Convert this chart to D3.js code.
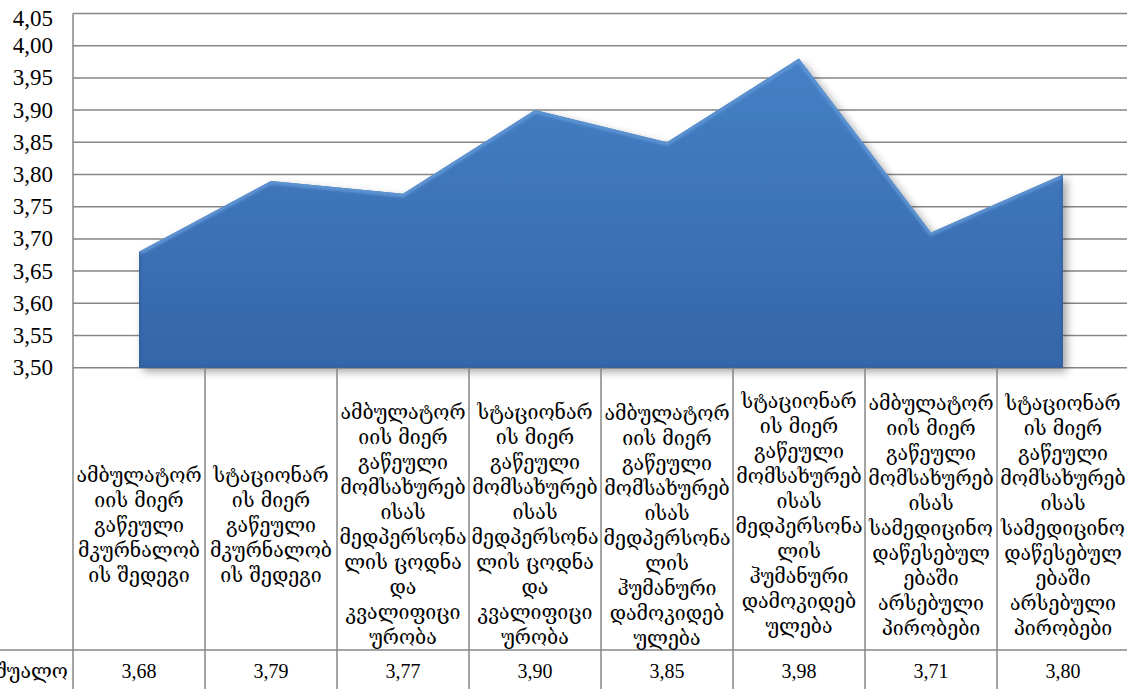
<!DOCTYPE html>
<html><head><meta charset="utf-8">
<script src="https://cdn.jsdelivr.net/npm/d3@7/dist/d3.min.js"></script>
<style>body{margin:0;background:#fff;overflow:hidden}
.num{font-family:'Liberation Serif';}
.geo{font-family:'DejaVu Serif';}
</style>
</head><body>
<svg id="c" width="1127" height="689"></svg>
<script>
// ---- data ----
const categories = [
  "ამბულატორ\nიის მიერ\nგაწეული\nმკურნალობ\nის შედეგი",
  "სტაციონარ\nის მიერ\nგაწეული\nმკურნალობ\nის შედეგი",
  "ამბულატორ\nიის მიერ\nგაწეული\nმომსახურებ\nისას\nმედპერსონა\nლის ცოდნა\nდა\nკვალიფიცი\nურობა",
  "სტაციონარ\nის მიერ\nგაწეული\nმომსახურებ\nისას\nმედპერსონა\nლის ცოდნა\nდა\nკვალიფიცი\nურობა",
  "ამბულატორ\nიის მიერ\nგაწეული\nმომსახურებ\nისას\nმედპერსონა\nლის\nჰუმანური\nდამოკიდებ\nულება",
  "სტაციონარ\nის მიერ\nგაწეული\nმომსახურებ\nისას\nმედპერსონა\nლის\nჰუმანური\nდამოკიდებ\nულება",
  "ამბულატორ\nიის მიერ\nგაწეული\nმომსახურებ\nისას\nსამედიცინო\nდაწესებულ\nებაში\nარსებული\nპირობები",
  "სტაციონარ\nის მიერ\nგაწეული\nმომსახურებ\nისას\nსამედიცინო\nდაწესებულ\nებაში\nარსებული\nპირობები"
];
const values = [3.68, 3.79, 3.77, 3.90, 3.85, 3.98, 3.71, 3.80];
const yTicks = [3.50, 3.55, 3.60, 3.65, 3.70, 3.75, 3.80, 3.85, 3.90, 3.95, 4.00, 4.05];
const seriesName = "საშუალო";

(function () {
const svg = d3.select("#c");
const W = 1127, H = 689;
const pLeft = 73, pRight = 1129, pTop = 13.5, pBase = 367.7;
const tableSplit = 650;
const fmt = v => d3.format(".2f")(v).replace(".", ",");
// vertical centre of each label block (layout only)
const labelMid = [525, 525, 524, 524, 525, 513, 515, 515];

const x = d3.scaleBand().domain(d3.range(categories.length)).range([pLeft, pRight]).padding(0);
const y = d3.scaleLinear().domain([3.5, 4.05]).range([pBase, pTop]);
const cx = i => x(i) + x.bandwidth() / 2;

const defs = svg.append("defs");
const grad = defs.append("linearGradient").attr("id", "g").attr("x1", 0).attr("y1", 0).attr("x2", 0).attr("y2", 1);
grad.append("stop").attr("offset", "0%").attr("stop-color", "#4680c6");
grad.append("stop").attr("offset", "100%").attr("stop-color", "#3566a9");
const f = defs.append("filter").attr("id", "sh").attr("x", "-10%").attr("y", "-10%").attr("width", "130%").attr("height", "130%");
f.append("feDropShadow").attr("dx", 4).attr("dy", 4).attr("stdDeviation", 4).attr("flood-color", "#000").attr("flood-opacity", 0.35);
const bl = defs.append("filter").attr("id", "bl");
bl.append("feGaussianBlur").attr("stdDeviation", 1.5);

// gridlines
svg.append("g").selectAll("line").data(yTicks).join("line")
  .attr("x1", pLeft).attr("x2", W).attr("y1", d => y(d)).attr("y2", d => y(d))
  .attr("stroke", "#868686").attr("stroke-width", 1.5);

// y tick labels
svg.append("g").selectAll("text").data(yTicks).join("text")
  .attr("class", "num")
  .attr("x", 53).attr("y", d => Math.max(y(d), 18))
  .attr("text-anchor", "end").attr("dominant-baseline", "central")
  .attr("font-size", 23).attr("fill", "#000")
  .text(d => fmt(d));

// area
const area = d3.area().x((d, i) => cx(i)).y0(y(3.5)).y1(d => y(d));
const line = d3.line().x((d, i) => cx(i)).y(d => y(d));
defs.append("clipPath").attr("id", "ac").append("path").attr("d", area(values));
svg.append("path").attr("d", area(values)).attr("fill", "url(#g)").attr("filter", "url(#sh)");
const bev = svg.append("g").attr("clip-path", "url(#ac)");
bev.append("path").attr("d", line(values)).attr("fill", "none").attr("stroke", "#7ab4f2").attr("stroke-width", 5).attr("filter", "url(#bl)");
bev.append("path").attr("d", area(values)).attr("fill", "none").attr("stroke", "#2a5590").attr("stroke-width", 3).attr("opacity", 0.5).attr("filter", "url(#bl)");

// table lines
svg.append("line").attr("x1", pLeft).attr("x2", pLeft).attr("y1", pTop).attr("y2", H).attr("stroke", "#868686").attr("stroke-width", 1.5);
svg.append("g").selectAll("line").data(d3.range(1, categories.length + 1)).join("line")
  .attr("x1", d => x(0) + d * x.bandwidth()).attr("x2", d => x(0) + d * x.bandwidth())
  .attr("y1", pBase).attr("y2", H).attr("stroke", "#868686").attr("stroke-width", 1.5);
svg.append("line").attr("x1", 0).attr("x2", W).attr("y1", tableSplit).attr("y2", tableSplit).attr("stroke", "#868686").attr("stroke-width", 1.5);

// category labels
const lab = svg.append("g").attr("class", "geo").attr("fill", "#000");
const lineH = 25;
let fs = 15;
const probe = lab.append("text").attr("font-size", fs);
let maxW = 0;
categories.forEach(c => c.split("\n").forEach(l => { probe.text(l); maxW = Math.max(maxW, probe.node().getComputedTextLength()); }));
probe.remove();
fs = fs * 127 / maxW;
categories.forEach((c, i) => {
  const lines = c.split("\n");
  const y0 = labelMid[i] - (lines.length - 1) * lineH / 2;
  const t = lab.append("text").attr("text-anchor", "middle").attr("font-size", fs)
    .attr("dominant-baseline", "central");
  lines.forEach((l, k) => t.append("tspan").attr("x", cx(i)).attr("y", y0 + k * lineH).text(l));
});

// value row
svg.append("g").selectAll("text").data(values).join("text")
  .attr("class", "num")
  .attr("x", (d, i) => cx(i)).attr("y", 671).attr("text-anchor", "middle").attr("dominant-baseline", "central")
  .attr("font-size", 20).text(d => fmt(d));
svg.append("text").attr("class", "geo").attr("x", 68).attr("y", 671).attr("text-anchor", "end").attr("dominant-baseline", "central")
  .attr("font-size", fs).text(seriesName);
})();
</script>
</body></html>
